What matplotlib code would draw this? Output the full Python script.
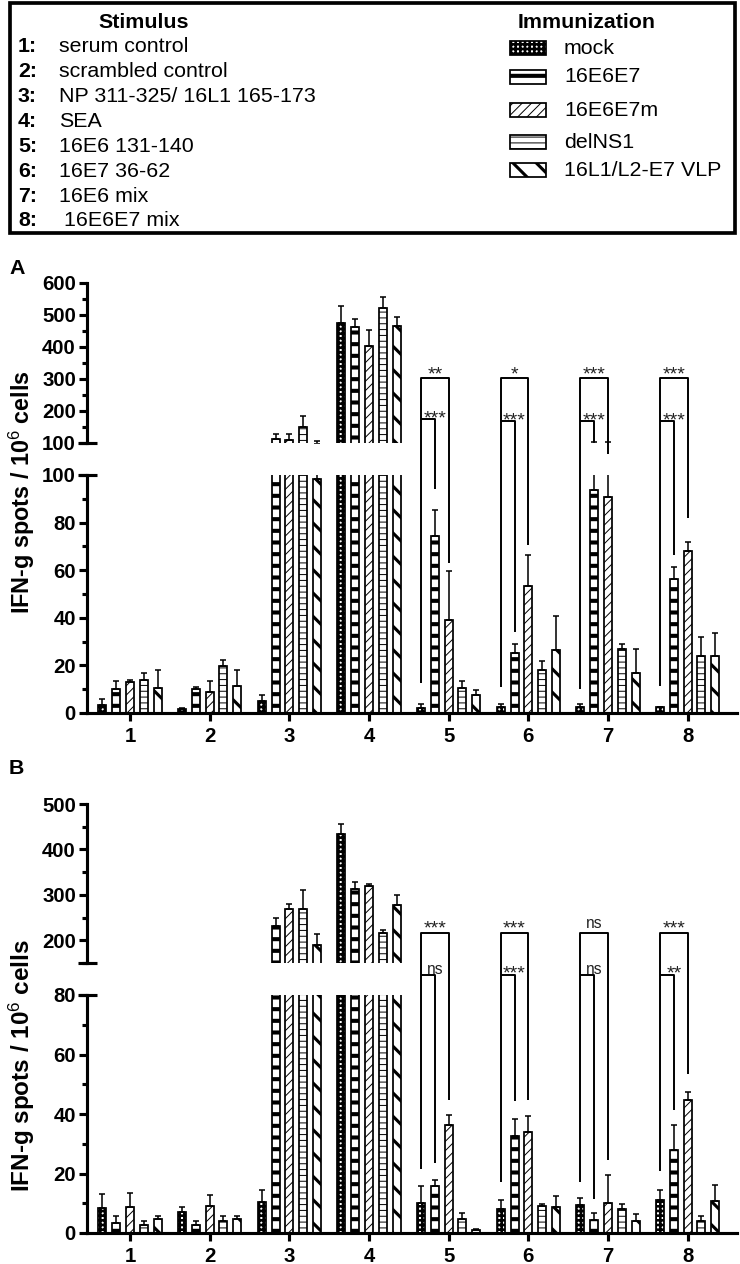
import matplotlib
matplotlib.use('Agg')
import matplotlib.pyplot as plt
from matplotlib.patches import Rectangle
from matplotlib.lines import Line2D
from matplotlib.ticker import FixedLocator
import numpy as np

DPI = 140
W, H = 740, 1264

plt.rcParams['font.family'] = ['Liberation Sans', 'DejaVu Sans']
plt.rcParams['mathtext.fontset'] = 'custom'
plt.rcParams['mathtext.rm'] = 'Liberation Sans'
plt.rcParams['mathtext.bf'] = 'Liberation Sans:bold'
plt.rcParams['mathtext.it'] = 'Liberation Sans:italic'

# ---------------- data ----------------
stimulus_ids = ['1', '2', '3', '4', '5', '6', '7', '8']
stimulus_names = ['serum control', 'scrambled control', 'NP 311-325/ 16L1 165-173', 'SEA',
                  '16E6 131-140', '16E7 36-62', '16E6 mix', '16E6E7 mix']
immunizations = ['mock', '16E6E7', '16E6E7m', 'delNS1', '16L1/L2-E7 VLP']

# Panel A: mean and upper error per stimulus
a_mock = [3.5, 1.8, 4.9, 474, 2.0, 2.5, 2.5, 2.4]
a_mock_err = [2.5, 0.3, 2.7, 55, 1.9, 1.3, 1.4, 0.3]
a_e6e7 = [10.1, 10.0, 112, 462, 74.2, 25.2, 93.5, 56.4]
a_e6e7_err = [3.2, 1.0, 16, 25, 10.9, 4.0, 9.5, 4.9]
a_e6e7m = [13.0, 9.0, 109, 403, 39.2, 53.5, 90.7, 67.9]
a_e6e7m_err = [0.8, 4.6, 19, 50, 20.6, 13.0, 12.3, 3.8]
a_delns1 = [13.7, 19.6, 151, 521, 10.5, 17.9, 26.9, 23.8]
a_delns1_err = [3.1, 2.8, 34, 36, 2.8, 4.1, 2.1, 8.0]
a_vlp = [10.5, 11.2, 98.3, 466, 7.4, 26.6, 16.8, 23.8]
a_vlp_err = [7.4, 6.7, 9, 28, 2.4, 14.3, 10.1, 9.7]

# Panel B
b_mock = [8.5, 7.1, 10.5, 434, 10.2, 8.0, 9.5, 11.2]
b_mock_err = [4.7, 1.5, 4.0, 22, 5.5, 3.0, 2.1, 3.3]
b_e6e7 = [3.4, 2.6, 231, 313, 15.8, 32.5, 4.4, 27.8]
b_e6e7_err = [2.2, 1.3, 18, 15, 2.0, 5.7, 2.3, 8.6]
b_e6e7m = [8.8, 9.2, 268, 319, 36.2, 33.8, 10.2, 44.8]
b_e6e7m_err = [4.6, 3.7, 12, 6, 3.6, 5.5, 9.2, 2.6]
b_delns1 = [2.6, 3.9, 268, 215, 4.6, 9.2, 8.1, 4.2]
b_delns1_err = [1.3, 1.9, 42, 8, 2.1, 0.4, 1.7, 1.6]
b_vlp = [4.8, 4.8, 190, 277, 1.0, 8.9, 3.9, 10.6]
b_vlp_err = [0.9, 1.0, 23, 22, 0.5, 3.5, 2.6, 5.4]

# significance annotations (stimuli 5-8)
sig_groups = [5, 6, 7, 8]
a_outer_labels = ['**', '*', '***', '***']
a_inner_labels = ['***', '***', '***', '***']
b_outer_labels = ['***', '***', 'ns', '***']
b_inner_labels = ['ns', '***', 'ns', '**']

# ---------------- styles ----------------
styles = {
    'mock': dict(hatch='+++++', hlw=1.35),
    '16E6E7': dict(hatch='--', hlw=2.1),
    '16E6E7m': dict(hatch='/////', hlw=0.5),
    'delNS1': dict(hatch='----', hlw=0.5),
    '16L1/L2-E7 VLP': dict(hatch='\\\\', hlw=1.6),
}
STEP = 0.173
BW = 0.1
XMIN, XMAX = 0.46, 8.62
SPINE_LW = 1.6

fig = plt.figure(figsize=(W / DPI, H / DPI), dpi=DPI)
pos = np.arange(1, len(stimulus_ids) + 1)


def px_axes(x0, y0, x1, y1):
    return fig.add_axes([x0 / W, 1 - y1 / H, (x1 - x0) / W, (y1 - y0) / H])


def to_fig(ax, x, y):
    return (ax.transData + fig.transFigure.inverted()).transform((x, y))


def fline(pts, lw=1.0):
    xs, ys = zip(*pts)
    fig.add_artist(Line2D(xs, ys, transform=fig.transFigure, color='black',
                          lw=lw, solid_capstyle='butt'))


def draw_bars(ax, vals, errs):
    for i, name in enumerate(immunizations):
        xs = pos + (i - 2) * STEP
        st = styles[name]
        with plt.rc_context({'hatch.linewidth': st['hlw']}):
            bars = ax.bar(xs, vals[i], width=BW, facecolor='white', edgecolor='black',
                          linewidth=0.9, hatch=st['hatch'], zorder=2)
        for b in bars:
            if hasattr(b, 'set_hatch_linewidth'):
                b.set_hatch_linewidth(st['hlw'])
        ax.errorbar(xs, vals[i], yerr=[np.zeros(len(xs)), errs[i]], fmt='none',
                    ecolor='black', elinewidth=0.8, capsize=1.5, capthick=0.8, zorder=3)


def style_axes(ax, ylim, major, minor, bottom):
    ax.set_xlim(XMIN, XMAX)
    ax.set_ylim(*ylim)
    for s in ['top', 'right']:
        ax.spines[s].set_visible(False)
    ax.spines['left'].set_linewidth(SPINE_LW)
    ax.yaxis.set_major_locator(FixedLocator(major))
    ax.yaxis.set_minor_locator(FixedLocator(minor))
    ax.tick_params(axis='y', which='major', direction='out', length=4.2, width=SPINE_LW,
                   labelsize=10.5, pad=1.5)
    ax.tick_params(axis='y', which='minor', direction='out', length=2.6, width=SPINE_LW)
    for lab in ax.get_yticklabels():
        lab.set_fontweight('bold')
    if bottom:
        ax.spines['bottom'].set_linewidth(SPINE_LW)
        ax.set_xticks(pos)
        ax.set_xticklabels(stimulus_ids, fontweight='bold', fontsize=10.5)
        ax.tick_params(axis='x', direction='out', length=4.2, width=SPINE_LW, pad=3)
    else:
        ax.spines['bottom'].set_visible(False)
        ax.set_xticks([])
    ax.patch.set_alpha(0)


def break_mark(ax, yval):
    x0, y = to_fig(ax, XMIN, yval)
    fline([(x0 - 9 / W, y), (x0 + 10 / W, y)], lw=SPINE_LW)


def draw_panel(top_px, bottom_px, upper_lim, upper_major, upper_minor,
               lower_lim, lower_major, lower_minor, vals, errs):
    au = px_axes(87, top_px[0], 737, top_px[1])
    al = px_axes(87, bottom_px[0], 737, bottom_px[1])
    style_axes(au, upper_lim, upper_major, upper_minor, False)
    style_axes(al, lower_lim, lower_major, lower_minor, True)
    draw_bars(au, vals, errs)
    draw_bars(al, vals, errs)
    break_mark(au, upper_lim[0])
    break_mark(al, lower_lim[1])
    return au, al


def pt(au, al, x, spec):
    which, v = spec
    return to_fig(au if which == 'u' else al, x, v)


def sig_text(x, y, label, dy_star, dy_ns):
    star = '*' in label
    fig.text(x, y + (dy_star if star else dy_ns) / H, label, ha='center', va='bottom',
             fontsize=10 if star else 8, color='#222222')


def brackets(au, al, outer_top, inner_tops, left_ends, inner_ends, outer_ends,
             outer_labels, inner_labels):
    for k, g in enumerate(sig_groups):
        xl, xi, xo = g - 2 * STEP, g - STEP, g
        pl_top = to_fig(au, xl, outer_top)
        po_top = to_fig(au, xo, outer_top)
        fline([pt(au, al, xl, left_ends[k]), pl_top, po_top, pt(au, al, xo, outer_ends[k])])
        pi_l = to_fig(au, xl, inner_tops[k])
        pi_r = to_fig(au, xi, inner_tops[k])
        fline([pi_l, pi_r, pt(au, al, xi, inner_ends[k])])
        xm = (pl_top[0] + po_top[0]) / 2
        sig_text(xm, pl_top[1], outer_labels[k], -5, 1.5)
        sig_text(xm, pi_l[1], inner_labels[k], -8, -2)


a_vals = [a_mock, a_e6e7, a_e6e7m, a_delns1, a_vlp]
a_errs = [a_mock_err, a_e6e7_err, a_e6e7m_err, a_delns1_err, a_vlp_err]
b_vals = [b_mock, b_e6e7, b_e6e7m, b_delns1, b_vlp]
b_errs = [b_mock_err, b_e6e7_err, b_e6e7m_err, b_delns1_err, b_vlp_err]

# ---- Panel A ----
auA, alA = draw_panel((283, 443), (475, 713), (100, 600), np.arange(100, 601, 100),
                      np.arange(150, 600, 100), (0, 100), np.arange(0, 101, 20),
                      np.arange(10, 100, 20), a_vals, a_errs)
brackets(auA, alA, 303, [175, 168, 168, 168],
         [('l', 12.8), ('l', 11), ('l', 10), ('l', 11.5)],
         [('l', 94), ('l', 34), ('u', 102), ('l', 66.5)],
         [('l', 63), ('l', 70.7), ('u', 67), ('l', 82)],
         a_outer_labels, a_inner_labels)

# ---- Panel B ----
auB, alB = draw_panel((804, 963), (995, 1233), (150, 500), np.arange(200, 501, 100),
                      np.arange(150, 500, 100), (0, 80), np.arange(0, 81, 20),
                      np.arange(10, 80, 20), b_vals, b_errs)
brackets(auB, alB, 217, [124, 124, 124, 124],
         [('l', 21.6), ('l', 17.1), ('l', 17.1), ('l', 20.7)],
         [('l', 23.6), ('l', 44.3), ('l', 11.3), ('l', 41.5)],
         [('l', 44.8), ('l', 44.8), ('l', 24.4), ('l', 53.6)],
         b_outer_labels, b_inner_labels)

ylabel = r'IFN-g spots / 10$^{6}$ cells'
fig.text(22 / W, 1 - 492 / H, ylabel, rotation=90, ha='center', va='center',
         fontsize=12, fontweight='bold')
fig.text(22 / W, 1 - 1066 / H, ylabel, rotation=90, ha='center', va='center',
         fontsize=12.5, fontweight='bold')
fig.text(9 / W, 1 - 268 / H, 'A', ha='left', va='center', fontsize=11, fontweight='bold')
fig.text(9 / W, 1 - 768 / H, 'B', ha='left', va='center', fontsize=11, fontweight='bold')

# ---- legend box ----
fig.add_artist(Rectangle((10 / W, 1 - 233 / H), 725 / W, 230 / H, transform=fig.transFigure,
                         facecolor='white', edgecolor='black', lw=1.9, zorder=0))
fig.text(144 / W, 1 - 23 / H, 'Stimulus', ha='center', va='center', fontsize=11,
         fontweight='bold')
fig.text(587 / W, 1 - 23 / H, 'Immunization', ha='center', va='center', fontsize=11,
         fontweight='bold')
row_y = [47, 71.5, 96.5, 121.5, 146.5, 171.5, 196, 220]
for k, (sid, name) in enumerate(zip(stimulus_ids, stimulus_names)):
    y = 1 - row_y[k] / H
    fig.text(18 / W, y, sid + ':', ha='left', va='center', fontsize=11, fontweight='bold')
    fig.text((59 if k < 7 else 64) / W, y, name, ha='left', va='center', fontsize=11)

leg_y = [48, 77, 110, 142, 170]
for k, name in enumerate(immunizations):
    st = styles[name]
    yc = leg_y[k]
    with plt.rc_context({'hatch.linewidth': st['hlw']}):
        r = Rectangle((510 / W, 1 - (yc + 7) / H), 36 / W, 14 / H, transform=fig.transFigure,
                      facecolor='white', edgecolor='black', lw=0.9, hatch=st['hatch'])
    if hasattr(r, 'set_hatch_linewidth'):
        r.set_hatch_linewidth(st['hlw'])
    fig.add_artist(r)
    fig.text(564 / W, 1 - yc / H, name, ha='left', va='center', fontsize=11)

fig.savefig('out.png', dpi=DPI)
